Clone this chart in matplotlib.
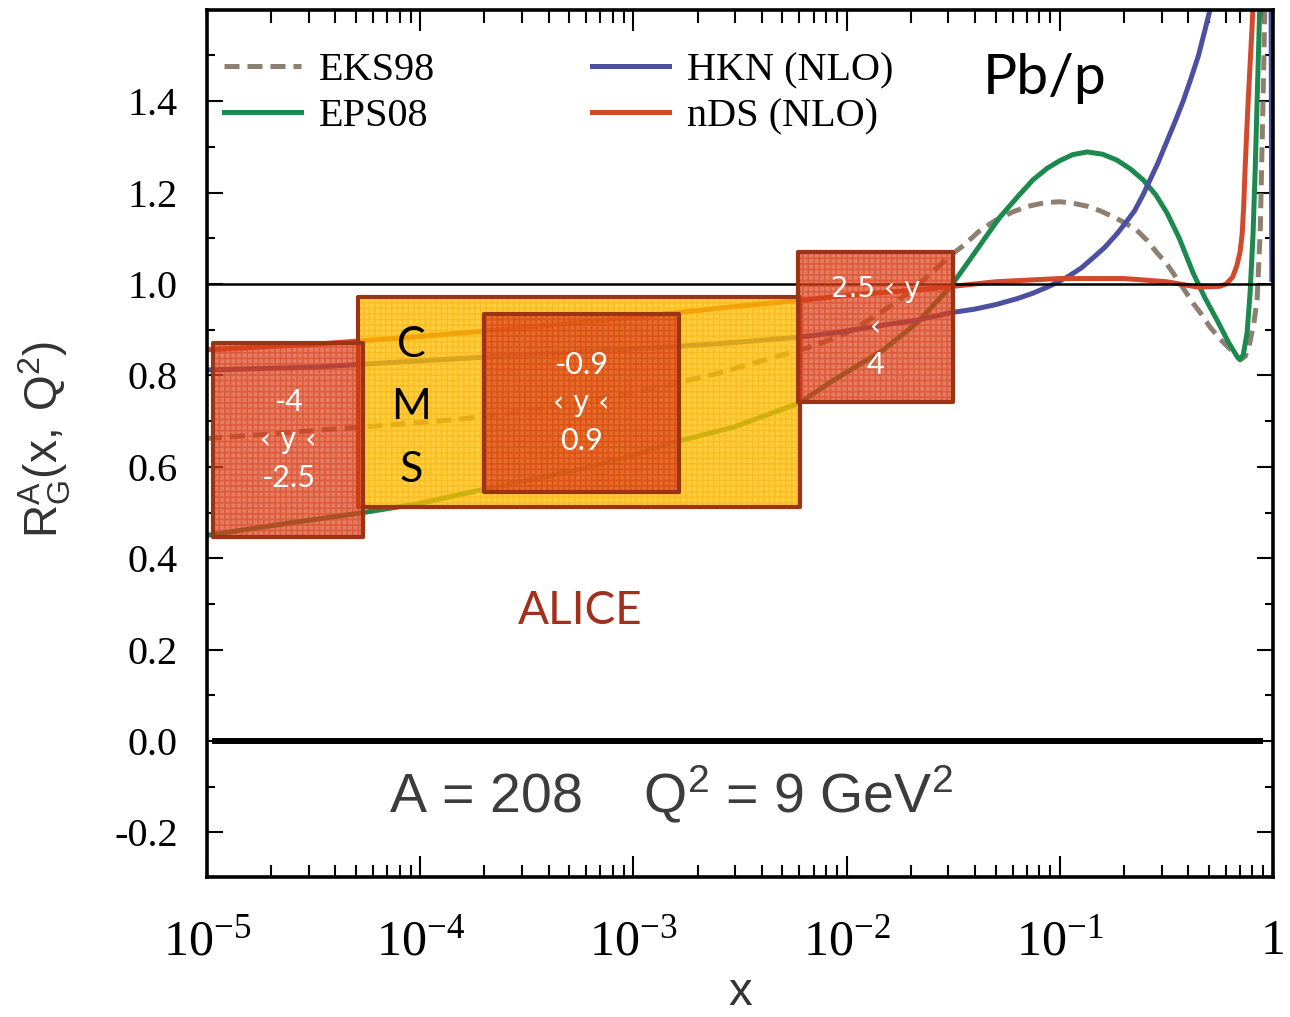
import numpy as np
import matplotlib
matplotlib.use("Agg")
import matplotlib.pyplot as plt
from matplotlib.patches import Rectangle
from matplotlib.lines import Line2D
from matplotlib.ticker import MultipleLocator, LogLocator, NullFormatter, FormatStrFormatter

# ---------------------------------------------------------------- data
# gluon nuclear modification R_G^A(x, Q^2) for A = 208, Q^2 = 9 GeV^2
eks98_logx = [-5.0, -4.7, -4.4, -4.1, -3.8, -3.5, -3.2, -2.9, -2.6, -2.3, -2.15, -2.0,
              -1.9, -1.8, -1.7, -1.6, -1.52, -1.45, -1.38, -1.3, -1.22, -1.15, -1.07,
              -1.0, -0.94, -0.87, -0.81, -0.75, -0.7, -0.64, -0.59, -0.544, -0.5, -0.469,
              -0.42, -0.375, -0.33, -0.296, -0.25, -0.2, -0.155, -0.13, -0.11, -0.09,
              -0.075, -0.06, -0.045, -0.035]
eks98_r = [0.662, 0.672, 0.683, 0.693, 0.705, 0.722, 0.745, 0.772, 0.805, 0.845, 0.865, 0.893,
           0.92, 0.95, 0.985, 1.025, 1.06, 1.085, 1.115, 1.14, 1.158, 1.17, 1.178,
           1.18, 1.177, 1.17, 1.16, 1.147, 1.135, 1.118, 1.095, 1.068, 1.045, 1.024,
           0.99, 0.958, 0.93, 0.906, 0.88, 0.857, 0.834, 0.842, 0.87, 0.915,
           0.965, 1.12, 1.45, 1.7]

eps08_logx = [-5.0, -4.6, -4.28, -4.0, -3.78, -3.5, -3.2, -3.0, -2.84, -2.53, -2.22, -2.06,
              -1.83, -1.67, -1.515, -1.45, -1.4, -1.34, -1.28, -1.2, -1.126, -1.06, -1.0,
              -0.94, -0.872, -0.8, -0.732, -0.67, -0.61, -0.55, -0.497, -0.44, -0.375,
              -0.32, -0.263, -0.21, -0.17, -0.155, -0.14, -0.122, -0.108, -0.094, -0.084,
              -0.075, -0.06]
eps08_r = [0.45, 0.478, 0.499, 0.52, 0.543, 0.57, 0.60, 0.625, 0.65, 0.687, 0.74, 0.79,
           0.855, 0.915, 0.993, 1.035, 1.068, 1.108, 1.147, 1.19, 1.228, 1.253, 1.27,
           1.283, 1.289, 1.284, 1.271, 1.252, 1.228, 1.195, 1.155, 1.10, 1.024,
           0.97, 0.921, 0.873, 0.842, 0.835, 0.845, 0.893, 0.98, 1.11, 1.25,
           1.40, 1.65]

hkn_logx = [-5.0, -4.5, -4.0, -3.5, -3.0, -2.77, -2.5, -2.22, -2.06, -1.8, -1.67, -1.515,
            -1.4, -1.3, -1.2, -1.126, -1.05, -0.966, -0.9, -0.85, -0.79, -0.732, -0.69,
            -0.65, -0.61, -0.577, -0.54, -0.5, -0.46, -0.422, -0.385, -0.35, -0.32,
            -0.296, -0.25, -0.2, -0.05, -0.012, -0.006]
hkn_r = [0.812, 0.818, 0.832, 0.845, 0.858, 0.864, 0.873, 0.884, 0.893, 0.912, 0.921, 0.937,
         0.945, 0.955, 0.968, 0.98, 0.995, 1.015, 1.035, 1.055, 1.08, 1.11, 1.135,
         1.16, 1.195, 1.228, 1.265, 1.31, 1.355, 1.40, 1.45, 1.50, 1.555,
         1.60, 1.68, 1.8, 2.1, 2.1, 1.01]

nds_logx = [-5.0, -4.5, -4.0, -3.5, -3.0, -2.5, -2.2, -2.0, -1.6, -1.3, -1.0, -0.7, -0.5,
            -0.35, -0.25, -0.22, -0.19, -0.17, -0.155, -0.145, -0.138, -0.131, -0.124,
            -0.117, -0.108, -0.10, -0.09]
nds_r = [0.856, 0.868, 0.885, 0.905, 0.927, 0.952, 0.965, 0.975, 0.99, 1.005, 1.012, 1.012,
         1.005, 0.993, 0.995, 1.0, 1.015, 1.04, 1.07, 1.11, 1.17, 1.256, 1.33,
         1.40, 1.48, 1.55, 1.65]

# kinematic coverage boxes: (x_min, x_max, R_min, R_max)
cms_box = (5.1e-5, 6.04e-3, 0.512, 0.972)
alice_boxes = [(1.067e-5, 5.4e-5, 0.446, 0.871),
               (1.99e-4, 1.64e-3, 0.545, 0.934),
               (5.92e-3, 3.16e-2, 0.742, 1.070)]
alice_labels = [["-4", "\u2039 y \u2039", "-2.5"],
                ["-0.9", "\u2039 y \u2039", "0.9"],
                ["2.5 \u2039 y", "\u2039", "4"]]

xtick_values = [1e-5, 1e-4, 1e-3, 1e-2, 1e-1, 1.0]
xtick_labels = [r"$\mathdefault{10^{-5}}$", r"$\mathdefault{10^{-4}}$",
                r"$\mathdefault{10^{-3}}$", r"$\mathdefault{10^{-2}}$",
                r"$\mathdefault{10^{-1}}$", "1"]

# ---------------------------------------------------------------- style
C_EKS = "#8e8070"
C_EPS = "#1c8a4e"
C_HKN = "#4b50a0"
C_NDS = "#d24a2e"
EDGE = "#9c3414"
LW = 3.6
DASH = (0, (3.0, 1.6))

plt.rcParams["hatch.linewidth"] = 1.2

fig = plt.figure(figsize=(12.9, 10.17), dpi=100)
ax = fig.add_axes([0.1605, 0.1376, 0.8264, 0.8526])
ax.set_xscale("log")
ax.set_xlim(1e-5, 1.0)
ax.set_ylim(-0.2976, 1.5996)


def xs(logx):
    return 10.0 ** np.asarray(logx)


ax.plot(xs(eks98_logx), eks98_r, color=C_EKS, lw=LW, ls=DASH, zorder=2)
ax.plot(xs(eps08_logx), eps08_r, color=C_EPS, lw=LW, zorder=2)
ax.plot(xs(hkn_logx), hkn_r, color=C_HKN, lw=LW, zorder=2)
ax.plot(xs(nds_logx), nds_r, color=C_NDS, lw=LW, zorder=2)

# reference lines
ax.axhline(1.0, color="black", lw=1.8, zorder=2.5)
ax.plot([1.055e-5, 0.898], [0.0, 0.0], color="black", lw=4.3,
        solid_capstyle="butt", zorder=2.5)


def add_box(x0, x1, y0, y1, face, face_alpha, hatch_col, z):
    ax.add_patch(Rectangle((x0, y0), x1 - x0, y1 - y0, facecolor=face, alpha=face_alpha,
                           edgecolor="none", zorder=z))
    ax.add_patch(Rectangle((x0, y0), x1 - x0, y1 - y0, fill=False, hatch="+++",
                           edgecolor=hatch_col, lw=0, zorder=z + 0.1))
    ax.add_patch(Rectangle((x0, y0), x1 - x0, y1 - y0, fill=False, edgecolor=EDGE,
                           lw=3.0, joinstyle="round", zorder=z + 0.2))


x0, x1, y0, y1 = cms_box
add_box(x0, x1, y0, y1, "#ffc000", 0.75, (0.96, 0.66, 0.0, 0.45), 3)
for i, (x0, x1, y0, y1) in enumerate(alice_boxes):
    add_box(x0, x1, y0, y1, "#d9401a", 0.68, (0.85, 0.25, 0.1, 0.55), 4 + i)

# labels inside the boxes
for (x0, x1, y0, y1), lines in zip(alice_boxes, alice_labels):
    xc = np.sqrt(x0 * x1)
    yc = 0.5 * (y0 + y1)
    for k, s in enumerate(lines):
        fam = ["DejaVu Sans"] if "\u2039" in s else ["Lato", "DejaVu Sans"]
        size = 20 if "\u2039" in s else 22
        ax.text(xc, yc + (1 - k) * 0.083, s, family=fam, fontsize=size, color="white",
                ha="center", va="center", zorder=10)

cms_x = np.sqrt(cms_box[0] * 1.6e-4)
for k, s in enumerate(["C", "M", "S"]):
    ax.text(cms_x, 0.866 - k * 0.136, s, family="Lato", fontsize=31, color="black",
            ha="center", va="center", zorder=10)

ax.text(5.6e-4, 0.285, "ALICE", family="Lato", fontsize=33, color="#a3301c",
        ha="center", va="center", zorder=10)
ax.text(0.085, 1.45, "Pb/p", family="Lato", fontsize=41, color="black",
        ha="center", va="center", zorder=10)
ax.text(1.5e-3, -0.155, r"A = 208    Q$\mathregular{^2}$ = 9 GeV$\mathregular{^2}$",
        family="Liberation Sans", fontsize=40, color="#3c3c3c",
        ha="center", va="baseline", zorder=10)

# ---------------------------------------------------------------- axes
for sp in ax.spines.values():
    sp.set_linewidth(2.6)

ax.xaxis.set_major_locator(plt.FixedLocator(xtick_values))
ax.set_xticklabels(xtick_labels)
ax.xaxis.set_minor_locator(LogLocator(base=10, subs=np.arange(2, 10)))
ax.xaxis.set_minor_formatter(NullFormatter())
ax.yaxis.set_major_locator(MultipleLocator(0.2))
ax.yaxis.set_minor_locator(MultipleLocator(0.1))
ax.yaxis.set_major_formatter(FormatStrFormatter("%.1f"))

ax.tick_params(which="both", direction="in", top=True, right=True, width=1.5)
ax.tick_params(axis="x", which="major", length=15, pad=30)
ax.tick_params(axis="x", which="minor", length=9)
ax.tick_params(axis="y", which="major", length=11.5, pad=21)
ax.tick_params(axis="y", which="minor", length=6)
for lab in ax.get_xticklabels():
    lab.set_family("Liberation Serif")
    lab.set_fontsize(36)
for lab in ax.get_yticklabels():
    lab.set_family("Liberation Serif")
    lab.set_fontsize(29)

fig.text(45 / 1290, 1 - 440 / 1017, r"$\mathregular{R^A_G(x,\,Q^2)}$", rotation=90,
         family="Liberation Sans", fontsize=33, color="#333333", ha="center", va="center")
fig.text(740 / 1290, 1 - 1005 / 1017, "x", family="Liberation Sans", fontsize=34,
         color="#333333", ha="center", va="baseline")

# ---------------------------------------------------------------- legend
handles = [Line2D([], [], color=C_EKS, lw=LW, ls=DASH),
           Line2D([], [], color=C_EPS, lw=LW),
           Line2D([], [], color=C_HKN, lw=LW),
           Line2D([], [], color=C_NDS, lw=LW)]
labels = ["EKS98", "EPS08", "HKN (NLO)", "nDS (NLO)"]
ax.legend(handles, labels, ncol=2, loc="upper left",
          bbox_to_anchor=(224 / 1290, 1 - 52 / 1017), bbox_transform=fig.transFigure,
          frameon=False, prop=dict(family="Liberation Serif", size=29),
          handlelength=1.9, handletextpad=0.45, columnspacing=3.9,
          labelspacing=0.22, borderpad=0, borderaxespad=0)

fig.savefig("out.png", dpi=100)
